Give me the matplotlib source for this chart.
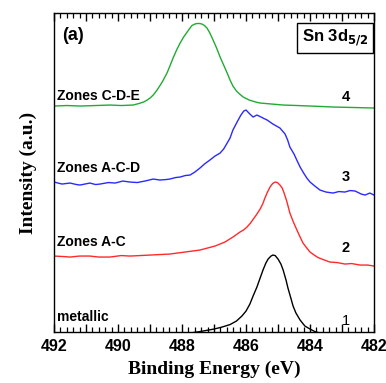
import matplotlib
matplotlib.use('Agg')
import matplotlib.pyplot as plt
from matplotlib.ticker import MultipleLocator

# Sn 3d5/2 spectra (intensity in arbitrary units)
energy_metallic = [492.0, 489.0, 487.75, 487.44, 487.0, 486.75, 486.5, 486.3, 486.13, 486.0,
                   485.88, 485.78, 485.66, 485.56, 485.47, 485.38, 485.31, 485.22, 485.16,
                   485.09, 485.0, 484.91, 484.84, 484.75, 484.69, 484.6, 484.53, 484.44,
                   484.31, 484.16, 484.0, 483.85, 483.69, 483.06, 482.0]
int_metallic = [-6, -4, -1, 0.5, 3, 5, 7.5, 11, 16, 21, 28, 36, 45, 54, 62, 69, 73, 76, 77,
                76.5, 73, 68, 62, 52, 44, 34, 26, 19, 12, 6, 3, 0.5, -1, -4, -5]

energy_ac = [492.0, 491.7, 491.5, 491.2, 490.88, 490.6, 490.25, 489.9, 489.63, 489.3, 489.0,
             488.7, 488.38, 487.91, 487.44, 486.97, 486.66, 486.41, 486.19, 486.08, 485.97,
             485.86, 485.75, 485.66, 485.56, 485.48, 485.41, 485.33, 485.25, 485.17, 485.09,
             485.02, 484.94, 484.87, 484.81, 484.72, 484.63, 484.52, 484.41, 484.31, 484.22,
             484.1, 484.0, 483.87, 483.75, 483.55, 483.38, 483.15, 482.91, 482.7, 482.44,
             482.2, 482.0]
int_ac = [76, 75.5, 75, 76, 76, 75, 75, 76.5, 76, 76.5, 77, 77.5, 78, 80, 82, 86, 90, 95, 100,
          102, 105, 109, 114, 118, 123, 128, 134, 140, 145, 148.5, 150, 149.5, 147, 144, 139,
          130, 119, 110, 102, 95, 89, 84, 80, 77, 74.5, 72, 70, 69.5, 68, 68.5, 67, 67, 66]

energy_acd = [492.0, 491.75, 491.5, 491.3, 491.19, 490.88, 490.7, 490.56, 490.3, 490.09,
              489.85, 489.63, 489.4, 489.16, 488.9, 488.69, 488.5, 488.38, 488.2, 488.06,
              487.9, 487.75, 487.6, 487.44, 487.3, 487.13, 486.97, 486.81, 486.7, 486.59,
              486.5, 486.41, 486.28, 486.16, 486.07, 486.0, 485.94, 485.88, 485.78, 485.66,
              485.53, 485.44, 485.34, 485.25, 485.16, 485.05, 484.94, 484.86, 484.78, 484.7,
              484.63, 484.5, 484.4, 484.31, 484.2, 484.1, 484.0, 483.85, 483.69, 483.5,
              483.28, 483.1, 482.91, 482.75, 482.59, 482.4, 482.28, 482.13, 482.0]
int_acd = [150, 148, 149, 147.5, 147, 149, 147.5, 148, 149.5, 149, 151, 150, 149.5, 151, 153,
           152, 152.5, 153, 154.5, 155, 156.5, 157, 160, 164, 168, 172, 176, 179, 183, 189,
           194, 202, 210, 217, 221, 222, 220, 218, 215, 217, 215, 213.5, 212, 210, 208, 206,
           204, 201, 198, 192, 185, 178, 171, 165, 159, 154, 150, 146, 142, 140, 139, 140.5,
           140, 141.5, 141, 138, 137, 139, 137]

energy_cde = [492.0, 491.6, 491.19, 490.7, 490.25, 489.9, 489.53, 489.35, 489.2, 489.09,
              489.0, 488.9, 488.78, 488.62, 488.47, 488.38, 488.28, 488.17, 488.06, 487.95,
              487.84, 487.75, 487.69, 487.6, 487.53, 487.45, 487.38, 487.3, 487.22, 487.13,
              487.03, 486.92, 486.81, 486.7, 486.59, 486.5, 486.41, 486.3, 486.2, 486.09,
              485.9, 485.7, 485.56, 485.2, 484.84, 484.4, 484.0, 483.6, 483.28, 482.6, 482.0]
int_cde = [226, 226.5, 226, 226.5, 227, 226.5, 227, 228.5, 230, 232, 234, 237, 242, 250, 259,
           266, 274, 282, 289, 295, 300, 304, 306.5, 308, 308.5, 308.5, 308, 306.5, 304, 299,
           292, 284, 275, 267, 259, 252, 246, 241, 238, 235, 232, 230, 229, 228, 227, 226.5,
           226, 225.5, 225, 224.5, 224]

zone_labels = ['metallic', 'Zones A-C', 'Zones A-C-D', 'Zones C-D-E']
curve_numbers = ['1', '2', '3', '4']
xtick_values = [492, 490, 488, 486, 484, 482]

fig = plt.figure(figsize=(3.86, 3.83), dpi=100)
ax = fig.add_axes([0.140, 0.133, 0.829, 0.833])

ax.plot(energy_metallic, int_metallic, color='black', lw=1.0)
ax.plot(energy_ac, int_ac, color='#ff2a2a', lw=1.0)
ax.plot(energy_acd, int_acd, color='#2a2aff', lw=1.0)
ax.plot(energy_cde, int_cde, color='#22aa33', lw=1.0)

ax.set_xlim(492, 482)
ax.set_ylim(0, 319)
ax.tick_params(axis='y', left=False, labelleft=False)
ax.xaxis.set_minor_locator(MultipleLocator(0.2))
ax.set_xticks(xtick_values + [491, 489, 487, 485, 483])
ax.set_xticklabels([str(v) for v in xtick_values] + [''] * 5,
                   family='Liberation Sans', fontweight='bold')
ax.tick_params(axis='x', which='both', direction='in', top=True, bottom=True, color='black')
ax.tick_params(axis='x', which='major', length=5.5, width=1.0, pad=5, labelsize=11.5)
ax.tick_params(axis='x', which='minor', length=3.5, width=0.9)
for sp in ax.spines.values():
    sp.set_linewidth(1.0)

ax.set_xlabel('Binding Energy (eV)', family='Liberation Serif', fontweight='bold',
              fontsize=14, labelpad=5)
ax.set_ylabel('Intensity (a.u.)', family='Liberation Serif', fontweight='bold',
              fontsize=14, labelpad=12)

# curve labels
label_y = [0.047, 0.282, 0.514, 0.74]
number_y = [0.034, 0.263, 0.486, 0.737]
for name, num, ly, ny in zip(zone_labels, curve_numbers, label_y, number_y):
    ax.text(0.008, ly, name, transform=ax.transAxes, family='Liberation Sans',
            fontweight='bold', fontsize=10, va='center', ha='left')
    ax.text(0.9125, ny, num, transform=ax.transAxes, family='Liberation Sans',
            fontweight='bold' if num != '1' else 'normal', fontsize=10.5,
            va='center', ha='center')

ax.text(0.025, 0.931, '(a)', transform=ax.transAxes, family='Liberation Sans',
        fontweight='bold', fontsize=13, va='center', ha='left')
ax.text(0.878, 0.922, r'Sn 3d$_{\mathbf{5/2}}$', transform=ax.transAxes,
        family='Liberation Sans', fontweight='bold', fontsize=12, va='center', ha='center',
        bbox=dict(boxstyle='square,pad=0.3', facecolor='white', edgecolor='black', lw=1.0))

fig.savefig('out.png', dpi=100)
